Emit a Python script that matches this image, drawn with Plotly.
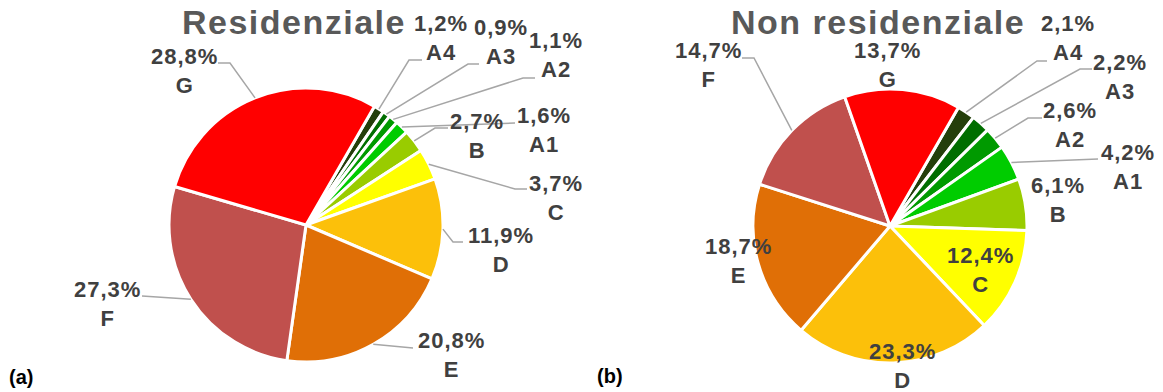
import math
import plotly.graph_objects as go

# Energy classes and their share of buildings (%)
classes = ["A4", "A3", "A2", "A1", "B", "C", "D", "E", "F", "G"]
residential = [1.2, 0.9, 1.1, 1.6, 2.7, 3.7, 11.9, 20.8, 27.3, 28.8]
non_residential = [2.1, 2.2, 2.6, 4.2, 6.1, 12.4, 23.3, 18.7, 14.7, 13.7]
class_colors = ["#243F0B", "#006E00", "#009A00", "#00CC00", "#99CC00",
                "#FFFF00", "#FCC00A", "#E06F06", "#C0504D", "#FF0000"]
titles = ["Residenziale", "Non residenziale"]
panel_tags = ["(a)", "(b)"]

W, H = 1163, 392
ROT = 30
FONT = "Liberation Sans, Arial, sans-serif"
LABEL_COLOR = "#404040"
LEADER_COLOR = "#A6A6A6"

# pie geometry in pixels: centre x, centre y, radius
pies = [(306, 225, 137), (890, 226, 137)]

# label placement per class: text centre, optional elbow, leader end (None = no leader)
res_labels = [
    ((441, 38), (409, 60), (422, 60)),
    ((501, 42), (468, 64), (479, 64)),
    ((556, 55), (523, 78), (535, 78)),
    ((544, 130), None, (515, 123)),
    ((477, 136), (435, 128), (448, 128)),
    ((556, 198), (515, 189), (527, 189)),
    ((501, 250), (453, 242), (463, 242)),
    ((451, 355), None, (413, 348)),
    ((107, 304), None, (142, 296)),
    ((184, 71), (230, 63), (218, 63)),
]
nonres_labels = [
    ((1068, 38), (1037, 61), (1047, 61)),
    ((1120, 77), (1080, 69), (1092, 69)),
    ((1070, 125), (1028, 118), (1042, 118)),
    ((1128, 167), None, (1098, 159)),
    ((1058, 200), None, None),
    ((980, 270), None, None),
    ((902, 366), None, None),
    ((738, 261), None, None),
    ((708, 65), (754, 58), (742, 58)),
    ((887, 65), None, None),
]


def px(x):
    return x / W


def py(y):
    return 1 - y / H


def fmt(v):
    return f"{v:.1f}".replace(".", ",") + "%"


fig = go.Figure()
annotations = []
shapes = []

for (cx, cy, r), values, placement, title, tag in zip(
        pies, [residential, non_residential], [res_labels, nonres_labels],
        titles, panel_tags):
    fig.add_trace(go.Pie(
        labels=classes, values=values, sort=False, direction="clockwise",
        rotation=ROT, textinfo="none", hoverinfo="label+percent",
        marker=dict(colors=class_colors, line=dict(color="white", width=3)),
        domain=dict(x=[px(cx - r), px(cx + r)], y=[py(cy + r), py(cy - r)]),
        showlegend=False,
    ))
    total = sum(values)
    cum = 0.0
    for v, name, (txt, elbow, end) in zip(values, classes, placement):
        mid = math.radians(ROT + 360 * (cum + v / 2) / total)
        cum += v
        ex, ey = cx + r * math.sin(mid), cy - r * math.cos(mid)
        if end is not None:
            pts = [(ex, ey)] + ([elbow] if elbow else []) + [end]
            path = "M " + " L ".join(f"{px(a)},{py(b)}" for a, b in pts)
            shapes.append(dict(type="path", path=path, xref="paper", yref="paper",
                               line=dict(color=LEADER_COLOR, width=1.5)))
        annotations.append(dict(
            x=px(txt[0]), y=py(txt[1]), xref="paper", yref="paper",
            text=f"<span style='letter-spacing:1px'>{fmt(v)}<br>{name}</span>",
            showarrow=False, xanchor="center", yanchor="middle",
            font=dict(family=FONT, size=22, color=LABEL_COLOR, weight="bold"),
        ))

# chart titles
for x, y, t in [(294, 22, titles[0]), (878, 22, titles[1])]:
    annotations.append(dict(
        x=px(x), y=py(y), xref="paper", yref="paper",
        text=f"<span style='letter-spacing:1.5px'>{t}</span>", showarrow=False,
        xanchor="center", yanchor="middle",
        font=dict(family=FONT, size=34, color="#595959", weight="bold"),
    ))

# panel tags
for x, y, t in [(21, 377, panel_tags[0]), (610, 376, panel_tags[1])]:
    annotations.append(dict(
        x=px(x), y=py(y), xref="paper", yref="paper", text=t, showarrow=False,
        xanchor="center", yanchor="middle",
        font=dict(family=FONT, size=20, color="#000000", weight="bold"),
    ))

fig.update_layout(
    width=W, height=H, margin=dict(l=0, r=0, t=0, b=0),
    paper_bgcolor="white", plot_bgcolor="white",
    annotations=annotations, shapes=shapes,
)

fig.write_html("out.html")
